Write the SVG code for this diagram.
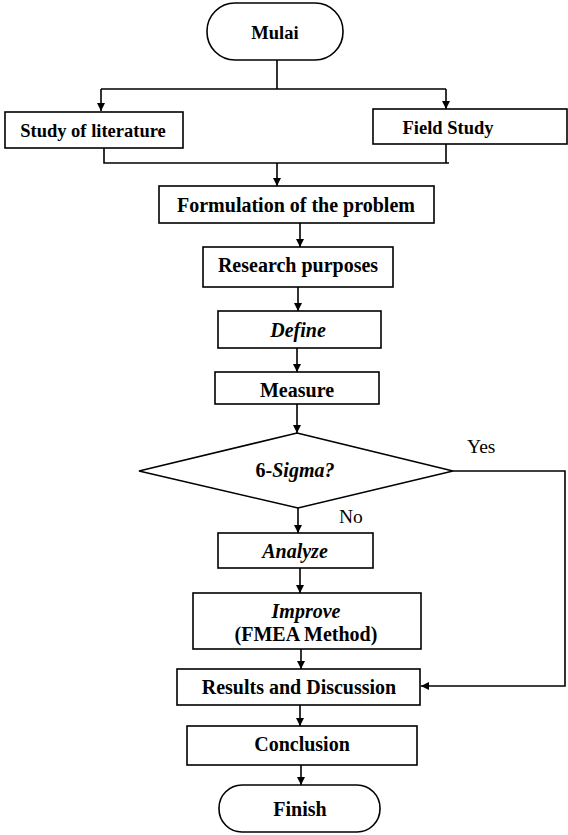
<svg xmlns="http://www.w3.org/2000/svg" width="568" height="835" viewBox="0 0 568 835">
<defs>
<marker id="ah" viewBox="0 0 10 10" refX="10" refY="5" markerWidth="8" markerHeight="8" markerUnits="userSpaceOnUse" orient="auto">
<path d="M0,0 L10,5 L0,10 z" fill="#000"/>
</marker>
<style>
.box{fill:#fff;stroke:#000;stroke-width:1.6}
.t{font-family:'Liberation Serif','Times New Roman',serif;font-size:20px;font-weight:bold;text-anchor:middle;fill:#000}
.s{font-size:18.5px}
.i{font-style:italic}
.r{font-family:'Liberation Serif','Times New Roman',serif;font-size:19.5px;fill:#000}
.c{fill:none;stroke:#000;stroke-width:1.6}
</style>
</defs>
<rect width="568" height="835" fill="#fff"/>
<g id="connectors">
<path class="c" d="M277,60 V89 M101,89 H446"/>
<path class="c" d="M101,89 V111" marker-end="url(#ah)"/>
<path class="c" d="M446,89 V109" marker-end="url(#ah)"/>
<path class="c" d="M104,148 V163 H449 M446,144 V163"/>
<path class="c" d="M277,163 V186" marker-end="url(#ah)"/>
<path class="c" d="M300,223 V247" marker-end="url(#ah)"/>
<path class="c" d="M298,287 V311" marker-end="url(#ah)"/>
<path class="c" d="M297,348 V372" marker-end="url(#ah)"/>
<path class="c" d="M297,404 V433" marker-end="url(#ah)"/>
<path class="c" d="M298,508 V533" marker-end="url(#ah)"/>
<path class="c" d="M300,568 V593" marker-end="url(#ah)"/>
<path class="c" d="M301,649 V669" marker-end="url(#ah)"/>
<path class="c" d="M300,705 V726" marker-end="url(#ah)"/>
<path class="c" d="M301,765 V785" marker-end="url(#ah)"/>
<path class="c" d="M453,471 H565 V686 H421" marker-end="url(#ah)"/>
<text class="r" x="467" y="453">Yes</text>
<text class="r" x="339" y="523">No</text>
</g>
<g id="mulai">
<rect class="box" x="207" y="3" width="136" height="57" rx="28" ry="28"/>
<text class="t s" x="275" y="39">Mulai</text>
</g>
<g id="literature">
<rect class="box" x="5" y="112" width="178" height="36"/>
<text class="t s" x="93" y="137">Study of literature</text>
</g>
<g id="field">
<rect class="box" x="373" y="109" width="194" height="35"/>
<text class="t s" x="448" y="134">Field Study</text>
</g>
<g id="formulation">
<rect class="box" x="159" y="186" width="275" height="37"/>
<text class="t" x="296" y="212">Formulation of the problem</text>
</g>
<g id="purposes">
<rect class="box" x="203" y="247" width="190" height="40"/>
<text class="t" x="298" y="272">Research purposes</text>
</g>
<g id="define">
<rect class="box" x="218" y="311" width="163" height="37"/>
<text class="t i" x="298" y="337">Define</text>
</g>
<g id="measure">
<rect class="box" x="215" y="372" width="164" height="32"/>
<text class="t" x="297" y="397">Measure</text>
</g>
<g id="sigma">
<polygon class="box" points="297,433 453,471 298,508 139,471"/>
<text class="t" x="295" y="477">6-<tspan class="i">Sigma?</tspan></text>
</g>
<g id="analyze">
<rect class="box" x="218" y="533" width="155" height="35"/>
<text class="t i" x="295" y="558">Analyze</text>
</g>
<g id="improve">
<rect class="box" x="193" y="593" width="228" height="56"/>
<text class="t i" x="306" y="618">Improve</text>
<text class="t" x="306" y="641">(FMEA Method)</text>
</g>
<g id="results">
<rect class="box" x="177" y="669" width="243" height="36"/>
<text class="t" x="299" y="694">Results and Discussion</text>
</g>
<g id="conclusion">
<rect class="box" x="187" y="726" width="230" height="39"/>
<text class="t" x="302" y="751">Conclusion</text>
</g>
<g id="finish">
<rect class="box" x="219" y="785" width="161" height="47" rx="23" ry="23"/>
<text class="t" x="300" y="816">Finish</text>
</g>
</svg>
